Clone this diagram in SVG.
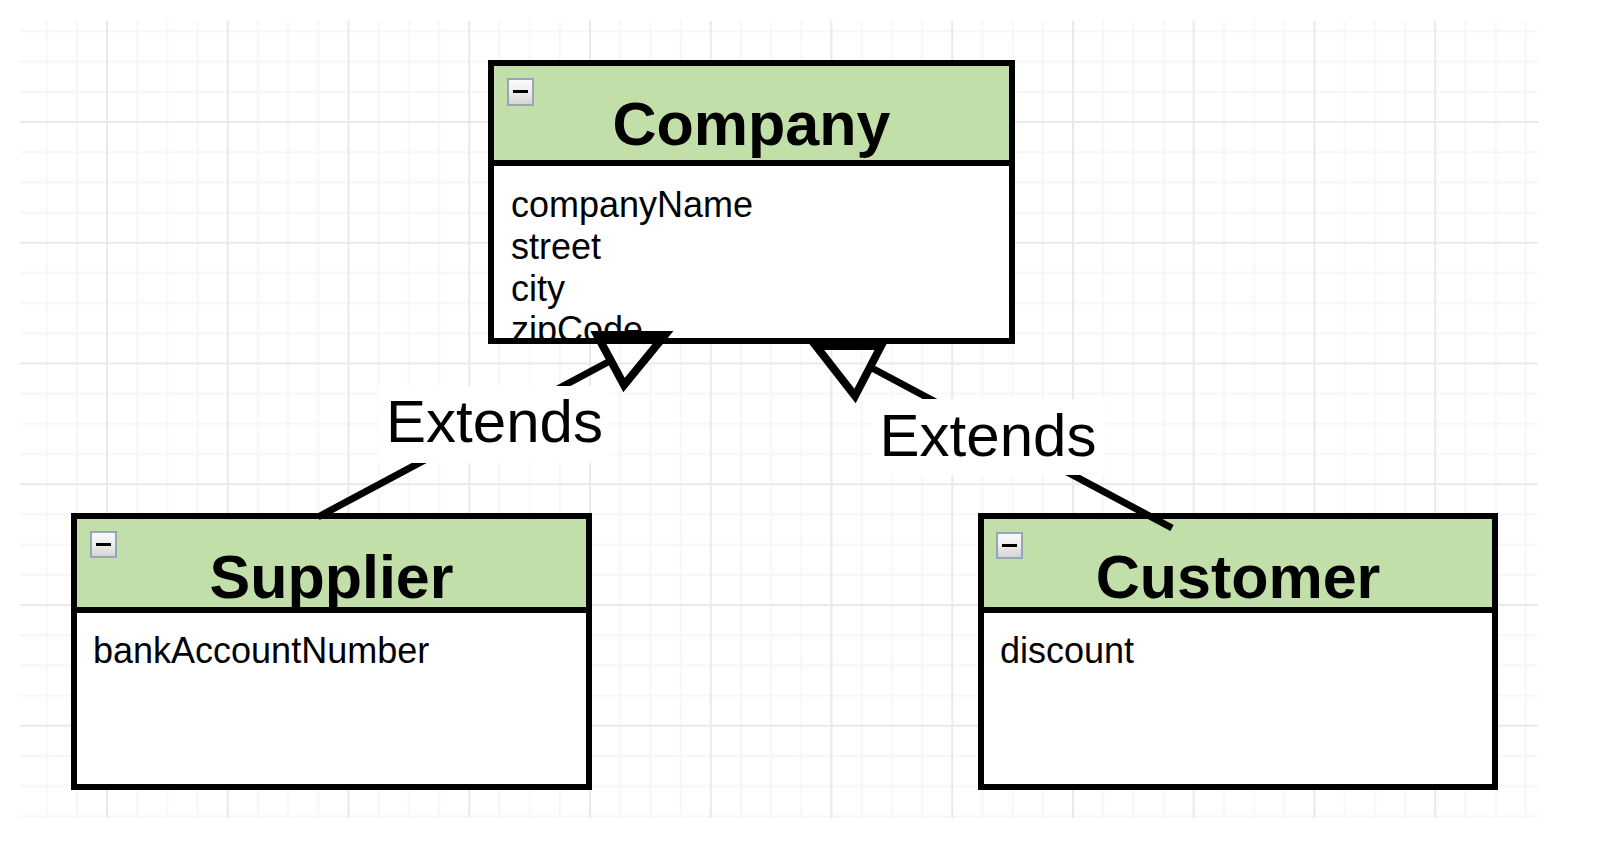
<svg xmlns="http://www.w3.org/2000/svg" width="1600" height="856" viewBox="0 0 1600 856">
  <style>
    .box { fill: none; stroke: #000; stroke-width: 6; }
    .body { fill: #fff; }
    .head { fill: #c2dfaa; }
    .sep { stroke: #000; stroke-width: 6; }
    .title { font-family: "Liberation Sans", Arial, sans-serif; font-weight: bold; font-size: 61px; fill: #000; text-anchor: middle; }
    .attr { font-family: "Liberation Sans", Arial, sans-serif; font-size: 36px; fill: #000; }
    .lbl { font-family: "Liberation Sans", Arial, sans-serif; font-size: 60px; fill: #000; text-anchor: middle; }
    .lblbg { fill: #fff; }
    .edge { fill: none; stroke: #000; stroke-width: 7; }
    .tri { fill: none; stroke: #000; stroke-width: 8; stroke-linejoin: miter; }
    .icon { fill: url(#iconGrad); stroke: #97a5b9; stroke-width: 2; }
    .minus { fill: #000; }
  </style>
  <defs>
    <linearGradient id="iconGrad" x1="0" y1="0" x2="0" y2="1">
      <stop offset="0" stop-color="#fbfbfb"/>
      <stop offset="0.5" stop-color="#eeeeee"/>
      <stop offset="1" stop-color="#d2d2d2"/>
    </linearGradient>
    <pattern id="grid" patternUnits="userSpaceOnUse" x="106" y="121" width="120.75" height="120.75">
      <g stroke="#f6f6f6" stroke-width="2">
        <line x1="31.19" y1="0" x2="31.19" y2="120.75"/>
        <line x1="61.38" y1="0" x2="61.38" y2="120.75"/>
        <line x1="91.56" y1="0" x2="91.56" y2="120.75"/>
        <line x1="0" y1="31.19" x2="120.75" y2="31.19"/>
        <line x1="0" y1="61.38" x2="120.75" y2="61.38"/>
        <line x1="0" y1="91.56" x2="120.75" y2="91.56"/>
      </g>
      <g stroke="#e9e9e9" stroke-width="2">
        <line x1="1" y1="0" x2="1" y2="120.75"/>
        <line x1="0" y1="1" x2="120.75" y2="1"/>
      </g>
    </pattern>
    <clipPath id="companyClip">
      <rect x="494" y="166" width="515" height="172"/>
    </clipPath>
  </defs>

  <rect x="0" y="0" width="1600" height="856" fill="#fff"/>
  <rect x="20" y="21" width="1518" height="797" fill="url(#grid)"/>

  <g id="company">
    <rect class="body" x="491" y="63" width="521" height="278"/>
    <rect class="head" x="491" y="63" width="521" height="100"/>
    <rect class="icon" x="508" y="79" width="25" height="26"/>
    <rect class="minus" x="513" y="90" width="15" height="3"/>
    <text class="title" x="751.5" y="145">Company</text>
    <g clip-path="url(#companyClip)">
      <text class="attr" x="511" y="217">companyName</text>
      <text class="attr" x="511" y="258.5">street</text>
      <text class="attr" x="511" y="300.5">city</text>
      <text class="attr" x="511" y="342">zipCode</text>
    </g>
    <line class="sep" x1="491" y1="163" x2="1012" y2="163"/>
    <rect class="box" x="491" y="63" width="521" height="278"/>
  </g>

  <g id="supplier">
    <rect class="body" x="74" y="516" width="515" height="271"/>
    <rect class="head" x="74" y="516" width="515" height="94"/>
    <rect class="icon" x="91" y="532" width="25" height="25"/>
    <rect class="minus" x="96" y="543" width="15" height="3"/>
    <text class="title" x="331.5" y="598">Supplier</text>
    <text class="attr" x="93" y="663">bankAccountNumber</text>
    <line class="sep" x1="74" y1="610" x2="589" y2="610"/>
    <rect class="box" x="74" y="516" width="515" height="271"/>
  </g>

  <g id="customer">
    <rect class="body" x="981" y="516" width="514" height="271"/>
    <rect class="head" x="981" y="516" width="514" height="94"/>
    <rect class="icon" x="997" y="533" width="25" height="25"/>
    <rect class="minus" x="1002" y="544" width="15" height="3"/>
    <text class="title" x="1238" y="598">Customer</text>
    <text class="attr" x="1000" y="663">discount</text>
    <line class="sep" x1="981" y1="610" x2="1495" y2="610"/>
    <rect class="box" x="981" y="516" width="514" height="271"/>
  </g>

  <g id="connectors">
    <g id="supplier-extends-company">
      <line class="edge" x1="318" y1="517" x2="610" y2="361"/>
      <polygon class="tri" points="597,335 665,335 624,385"/>
      <rect class="lblbg" x="378" y="386" width="232" height="77"/>
      <text class="lbl" x="494.5" y="442">Extends</text>
    </g>
    <g id="customer-extends-company">
      <line class="edge" x1="1172" y1="528" x2="870" y2="367"/>
      <polygon class="tri" points="816,346 881,346 855,396"/>
      <rect class="lblbg" x="872" y="399" width="232" height="76"/>
      <text class="lbl" x="988" y="456">Extends</text>
    </g>
  </g>
</svg>
